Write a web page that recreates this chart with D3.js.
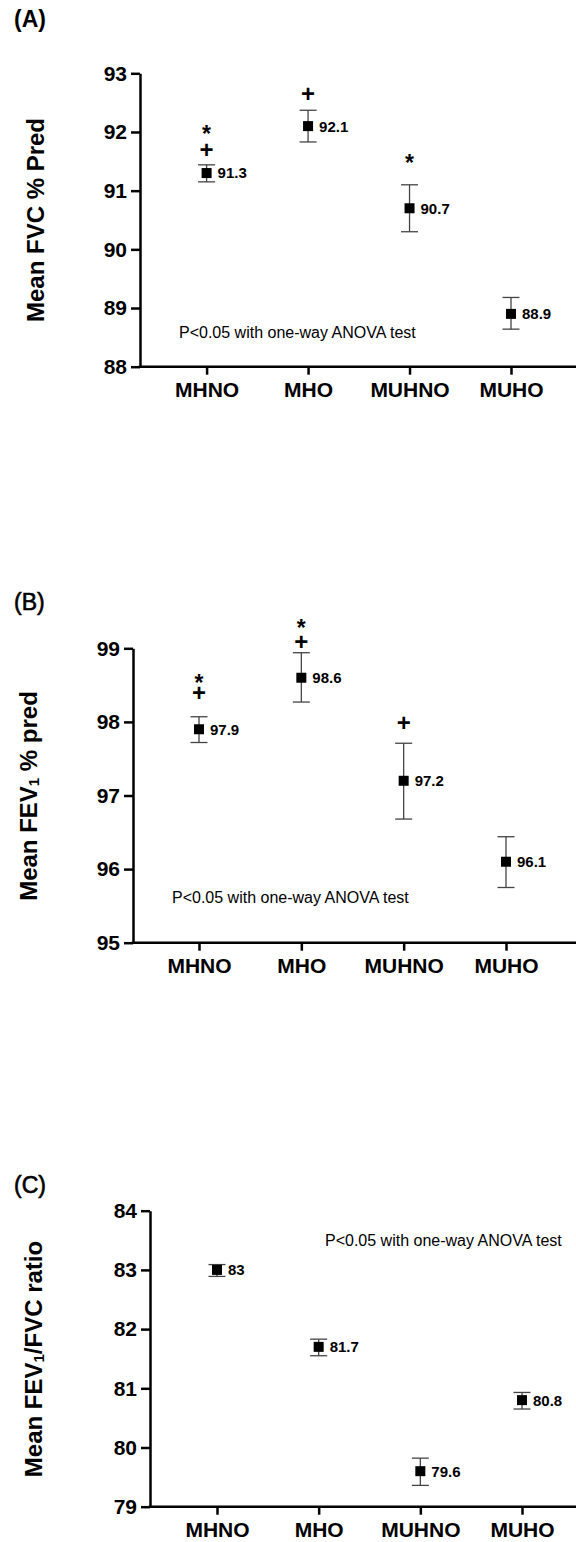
<!DOCTYPE html>
<html>
<head>
    <meta charset="utf-8">
    <title>Lung function by metabolic / obesity phenotype</title>
    <script src="https://d3js.org/d3.v7.min.js"></script>
    <style>
        body { margin: 0; background: #fff; }
        svg text { font-family: "Liberation Sans", Arial, sans-serif; fill: #000; }
        .axis path, .axis line { stroke: #000; stroke-width: 2.5; }
        .axis text { font-size: 21px; font-weight: bold; }
        .err { stroke: #444; stroke-width: 1.3; }
    </style>
</head>
<body>
    <svg id="chart" width="576" height="1542"></svg>

    <script>
        // groups on the x axis
        const categories = ['MHNO', 'MHO', 'MUHNO', 'MUHO'];

        // (A) FVC % predicted
        const fvcMean = [91.3, 92.1, 90.7, 88.9];
        const fvcLow = [91.15, 91.83, 90.30, 88.64];
        const fvcHigh = [91.44, 92.37, 91.10, 89.18];
        const fvcTicks = [88, 89, 90, 91, 92, 93];
        const fvcMarks = [
            { cat: 'MHNO', sym: '+', at: 91.69 },
            { cat: 'MHNO', sym: '*', at: 92.07 },
            { cat: 'MHO', sym: '+', at: 92.65 },
            { cat: 'MUHNO', sym: '*', at: 91.57 }
        ];

        // (B) FEV1 % predicted
        const fev1Mean = [97.9, 98.6, 97.2, 96.1];
        const fev1Low = [97.72, 98.27, 96.68, 95.75];
        const fev1High = [98.07, 98.94, 97.71, 96.44];
        const fev1Ticks = [95, 96, 97, 98, 99];
        const fev1Marks = [
            { cat: 'MHNO', sym: '+', at: 98.39 },
            { cat: 'MHNO', sym: '*', at: 98.62 },
            { cat: 'MHO', sym: '+', at: 99.09 },
            { cat: 'MHO', sym: '*', at: 99.36 },
            { cat: 'MUHNO', sym: '+', at: 97.99 }
        ];

        // (C) FEV1/FVC ratio
        const ratioMean = [83, 81.7, 79.6, 80.8];
        const ratioLow = [82.89, 81.55, 79.36, 80.65];
        const ratioHigh = [83.09, 81.83, 79.82, 80.93];
        const ratioTicks = [79, 80, 81, 82, 83, 84];
        const ratioMarks = [];

        const noteText = 'P<0.05 with one-way ANOVA test';

        // layout of the three panels (pixels)
        const panels = [
            {
                tag: '(A)', tagBold: true, tagY: 27,
                title: ['Mean FVC % Pred'], titleX: 35, titleY: 220,
                mean: fvcMean, low: fvcLow, high: fvcHigh, ticks: fvcTicks, marks: fvcMarks,
                axisX: 140, top: 73.3, bottom: 366.7, xFirst: 206.6, xLast: 511,
                noteX: 179, noteY: 338
            },
            {
                tag: '(B)', tagBold: false, tagY: 609.5,
                title: ['Mean FEV', '1', ' % pred'], titleX: 28, titleY: 796,
                mean: fev1Mean, low: fev1Low, high: fev1High, ticks: fev1Ticks, marks: fev1Marks,
                axisX: 133, top: 648.3, bottom: 942.7, xFirst: 199, xLast: 506,
                noteX: 172, noteY: 902.5
            },
            {
                tag: '(C)', tagBold: false, tagY: 1193,
                title: ['Mean FEV', '1', '/FVC ratio'], titleX: 33, titleY: 1359,
                mean: ratioMean, low: ratioLow, high: ratioHigh, ticks: ratioTicks, marks: ratioMarks,
                axisX: 150, top: 1210.7, bottom: 1506.7, xFirst: 217, xLast: 522,
                noteX: 325, noteY: 1246
            }
        ];

        const svg = d3.select('#chart');

        panels.forEach(function (p) {
            const g = svg.append('g');

            const x = d3.scalePoint()
                .domain(categories)
                .range([p.xFirst, p.xLast]);

            const y = d3.scaleLinear()
                .domain([d3.min(p.ticks), d3.max(p.ticks)])
                .range([p.bottom, p.top]);

            // panel tag
            g.append('text')
                .attr('x', 14)
                .attr('y', p.tagY)
                .style('font-size', '23px')
                .style('font-weight', p.tagBold ? 'bold' : 'normal')
                .style('stroke', p.tagBold ? 'none' : '#000')
                .style('stroke-width', 0.6)
                .text(p.tag);

            // y axis
            g.append('g')
                .attr('class', 'axis')
                .attr('transform', 'translate(' + p.axisX + ',0)')
                .call(d3.axisLeft(y).tickValues(p.ticks).tickSize(9).tickSizeOuter(0).tickPadding(4).tickFormat(d3.format('d')));

            // x axis: line runs to the right edge
            const xAxis = g.append('g')
                .attr('class', 'axis')
                .attr('transform', 'translate(0,' + p.bottom + ')')
                .call(d3.axisBottom(x).tickSize(8).tickSizeOuter(0).tickPadding(7));
            xAxis.select('.domain').remove();
            xAxis.append('line')
                .attr('x1', p.axisX - 1.25)
                .attr('x2', 576)
                .attr('y1', 0)
                .attr('y2', 0);

            // y title
            const t = g.append('text')
                .attr('transform', 'translate(' + p.titleX + ',' + p.titleY + ') rotate(-90)')
                .attr('text-anchor', 'middle')
                .attr('dominant-baseline', 'central')
                .style('font-size', '24px')
                .style('font-weight', 'bold');
            p.title.forEach(function (part, i) {
                const span = t.append('tspan').text(part);
                if (i === 1) {
                    span.style('font-size', '15px').attr('dy', '5');
                } else if (i === 2) {
                    span.attr('dy', '-5');
                }
            });

            const rows = categories.map(function (c, i) {
                return { cat: c, mean: p.mean[i], low: p.low[i], high: p.high[i] };
            });

            // error bars
            const bars = g.selectAll('.bar')
                .data(rows)
                .enter()
                .append('g');
            bars.append('line')
                .attr('class', 'err')
                .attr('x1', d => x(d.cat))
                .attr('x2', d => x(d.cat))
                .attr('y1', d => y(d.low))
                .attr('y2', d => y(d.high));
            bars.append('line')
                .attr('class', 'err')
                .attr('x1', d => x(d.cat) - 8.5)
                .attr('x2', d => x(d.cat) + 8.5)
                .attr('y1', d => y(d.low))
                .attr('y2', d => y(d.low));
            bars.append('line')
                .attr('class', 'err')
                .attr('x1', d => x(d.cat) - 8.5)
                .attr('x2', d => x(d.cat) + 8.5)
                .attr('y1', d => y(d.high))
                .attr('y2', d => y(d.high));

            // mean markers
            bars.append('rect')
                .attr('x', d => x(d.cat) - 5)
                .attr('y', d => y(d.mean) - 5)
                .attr('width', 10)
                .attr('height', 10)
                .attr('fill', '#000');

            // value labels
            bars.append('text')
                .attr('x', d => x(d.cat) + 11)
                .attr('y', d => y(d.mean))
                .attr('dy', '0.36em')
                .style('font-size', '15px')
                .style('font-weight', 'bold')
                .text(d => d3.format('')(d.mean));

            // significance symbols
            g.selectAll('.mark')
                .data(p.marks)
                .enter()
                .append('text')
                .attr('x', d => x(d.cat))
                .attr('y', d => y(d.at))
                .attr('dy', d => d.sym === '*' ? '0.62em' : '0.34em')
                .attr('text-anchor', 'middle')
                .style('font-size', d => d.sym === '*' ? '23px' : '24px')
                .style('font-weight', 'bold')
                .text(d => d.sym);

            // ANOVA note
            g.append('text')
                .attr('x', p.noteX)
                .attr('y', p.noteY)
                .style('font-size', '16px')
                .text(noteText);
        });
    </script>
</body>
</html>
